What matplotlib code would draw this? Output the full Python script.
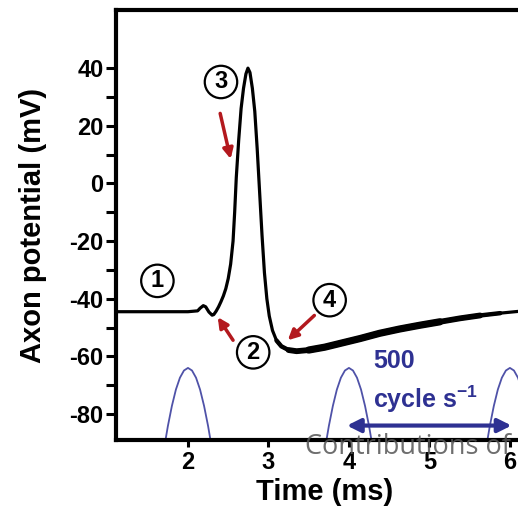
import matplotlib
matplotlib.use("Agg")
import matplotlib.pyplot as plt
from matplotlib.ticker import FixedLocator

plt.rcParams['font.family'] = ['Liberation Sans', 'DejaVu Sans']
plt.rcParams['axes.unicode_minus'] = False
plt.rcParams['mathtext.fontset'] = 'custom'
plt.rcParams['mathtext.rm'] = 'Liberation Sans:bold'
plt.rcParams['mathtext.bf'] = 'Liberation Sans:bold'

# action potential trace
time_ms = [1.10, 2.00, 2.12, 2.15, 2.19, 2.22, 2.26, 2.30, 2.32, 2.35, 2.38,
           2.41, 2.44, 2.47, 2.50, 2.53, 2.56, 2.58, 2.60, 2.63, 2.66, 2.69,
           2.72, 2.745, 2.77, 2.80, 2.83, 2.86, 2.89, 2.92, 2.95, 2.98, 3.01,
           3.05, 3.10, 3.16, 3.25, 3.35, 3.50, 3.70, 3.89, 4.14, 4.38, 4.63,
           4.88, 5.13, 5.38, 5.63, 5.88, 6.10, 6.30]
potential_mv = [-44.5, -44.5, -44.2, -43.3, -42.4, -42.8, -44.6, -45.7, -45.5,
                -44.3, -42.8, -41.0, -39.0, -36.5, -33.0, -28.0, -20.0, -10.0,
                2.0, 15.0, 26.0, 33.0, 38.0, 40.0, 38.5, 33.0, 25.0, 12.0,
                -3.0, -18.0, -31.0, -40.0, -46.0, -51.0, -54.5, -56.5, -57.8,
                -58.2, -57.8, -56.8, -55.5, -53.8, -52.0, -50.5, -49.2, -48.0,
                -46.8, -45.8, -45.0, -44.4, -44.0]

# stimulus arcs (500 cycle/s), offsets from each crest
arc_centers = [2.0, 4.0, 6.0]
arc_dt = [-0.30, -0.25, -0.20, -0.15, -0.10, -0.05, 0.0,
          0.05, 0.10, 0.15, 0.20, 0.25, 0.30]
arc_mv = [-92.4, -84.2, -77.2, -71.5, -67.4, -64.9, -64.0,
          -64.9, -67.4, -71.5, -77.2, -84.2, -92.4]

labels = ["1", "2", "3", "4"]
label_x = [1.62, 2.81, 2.41, 3.76]
label_y = [-33.8, -58.6, 35.2, -40.5]
arrow_tail = [(2.56, -54.4), (2.40, 24.3), (3.57, -45.8)]
arrow_tip = [(2.37, -46.4), (2.53, 8.5), (3.24, -54.4)]

fig = plt.figure(figsize=(5.18, 5.11), dpi=100)
ax = fig.add_axes([0.224, 0.139, 0.807, 0.841])


def part(t0, t1):
    pts = [(t, v) for t, v in zip(time_ms, potential_mv) if t0 <= t <= t1]
    return [p[0] for p in pts], [p[1] for p in pts]


ax.plot(time_ms, potential_mv, color='black', lw=2.3, solid_capstyle='round',
        solid_joinstyle='round')
# trace gets thicker during the recovery phase
for t0, t1, w in [(3.10, 6.0, 3.2), (3.25, 5.7, 4.2), (3.50, 5.2, 5.2)]:
    tt, vv = part(t0, t1)
    ax.plot(tt, vv, color='black', lw=w, solid_capstyle='round',
            solid_joinstyle='round')

for c in arc_centers:
    ax.plot([c + d for d in arc_dt], arc_mv, color='#4f52a8', lw=1.3)

for s, x, y in zip(labels, label_x, label_y):
    ax.text(x, y, s, fontsize=17, fontweight='bold', ha='center', va='center',
            bbox=dict(boxstyle='circle,pad=0.2', fc='white', ec='black', lw=1.6))

for tail, tip in zip(arrow_tail, arrow_tip):
    ax.annotate('', xy=tip, xytext=tail,
                arrowprops=dict(arrowstyle='-|>,head_length=0.6,head_width=0.3',
                                color='#b3191e', lw=2.5, shrinkA=0, shrinkB=0))

ax.annotate('', xy=(3.975, -84), xytext=(6.02, -84),
            arrowprops=dict(arrowstyle='<|-|>,head_length=0.8,head_width=0.4',
                            color='#2e3192', lw=3, shrinkA=0, shrinkB=0))
ax.text(4.30, -61.5, '500', color='#2e3192', fontsize=18, fontweight='bold',
        ha='left', va='center')
ax.text(4.30, -75.0, r'cycle s$^{-1}$', color='#2e3192', fontsize=18,
        fontweight='bold', ha='left', va='center')

ax.set_xlim(1.106, 6.3)
ax.set_ylim(-89, 60.1)
ax.set_xticks([2, 3, 4, 5, 6])
ax.set_yticks([-80, -60, -40, -20, 0, 20, 40])
ax.yaxis.set_minor_locator(FixedLocator([-70, -50, -30, -10, 10, 30]))
ax.xaxis.set_minor_locator(FixedLocator([]))
ax.tick_params(axis='y', which='both', length=7, width=2.2, pad=2, labelsize=17)
ax.tick_params(axis='x', which='major', length=5, width=2.2, pad=3, labelsize=17)
for lab in ax.get_xticklabels() + ax.get_yticklabels():
    lab.set_fontweight('bold')

for side in ['left', 'bottom', 'top']:
    ax.spines[side].set_linewidth(3)
ax.spines['right'].set_visible(False)

ax.set_xlabel('Time (ms)', fontsize=21, fontweight='bold', labelpad=3)
ax.set_ylabel('Axon potential (mV)', fontsize=21, fontweight='bold', labelpad=16)

fig.text(305 / 518, 1 - 447 / 511, 'Contributions of', fontsize=19.5,
         color='#555555', alpha=0.85, family=['Open Sans', 'DejaVu Sans'],
         ha='left', va='center')

fig.savefig('out.png', dpi=100)
